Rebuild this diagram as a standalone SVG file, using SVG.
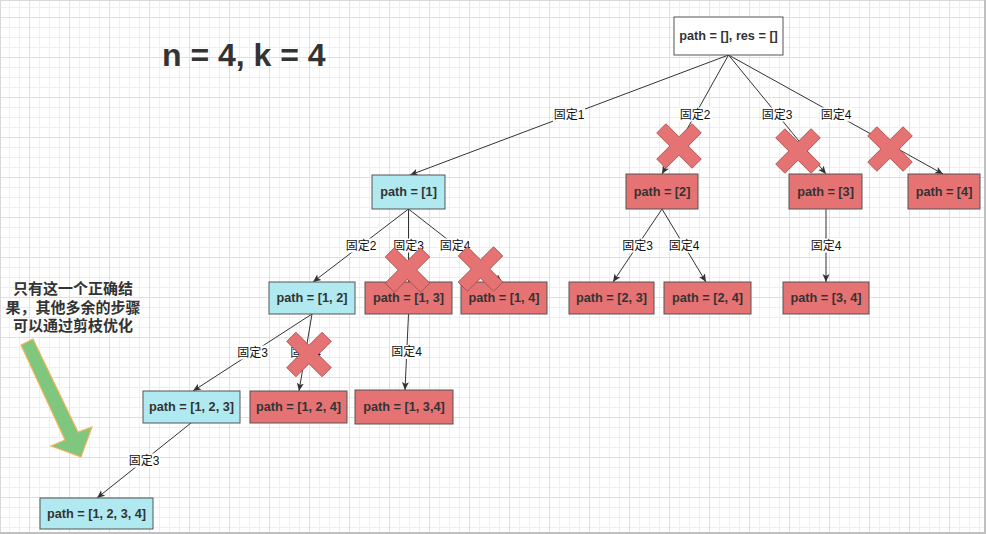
<svg xmlns="http://www.w3.org/2000/svg" width="986" height="534" viewBox="0 0 986 534">
<defs>
  <pattern id="grid" x="9" y="7" width="40" height="40" patternUnits="userSpaceOnUse">
    <path d="M0.5,0 V40 M10.5,0 V40 M30.5,0 V40 M0,0.5 H40 M0,20.5 H40 M0,30.5 H40" stroke="#efefef" stroke-width="1" fill="none"/>
    <path d="M20.5,0 V40 M0,10.5 H40" stroke="#e0e0e0" stroke-width="1" fill="none"/>
  </pattern>
  <marker id="arr" markerUnits="userSpaceOnUse" markerWidth="10" markerHeight="8" refX="8" refY="4" orient="auto">
    <path d="M0,0.5 L8,4 L0,7.5 L2,4 Z" fill="#333"/>
  </marker>
  <polygon id="cross" points="-6.5,-25 6.5,-25 6.5,-6.5 25,-6.5 25,6.5 6.5,6.5 6.5,25 -6.5,25 -6.5,6.5 -25,6.5 -25,-6.5 -6.5,-6.5"/>
  <style>
    .edge { stroke: #333; stroke-width: 1; fill: none; marker-end: url(#arr); }
    .lblbg { fill: #ffffff; }
    .lbl { font-family: "Liberation Sans", "Noto Sans CJK SC", sans-serif; font-size: 12px; fill: #111; text-anchor: middle; dominant-baseline: central; }
    .box { stroke: #555; stroke-width: 1; }
    .white { fill: #ffffff; }
    .cyan { fill: #b1e9f0; }
    .red { fill: #e67373; }
    .ntxt { font-family: "Liberation Sans", "Noto Sans CJK SC", sans-serif; font-size: 12.7px; font-weight: bold; fill: #333; text-anchor: middle; dominant-baseline: central; }
    .xmark { fill: #e67373; stroke: #a84848; stroke-width: 0.8; }
    .note { font-family: "Noto Sans CJK SC", sans-serif; font-size: 15px; font-weight: bold; fill: #333; text-anchor: middle; }
  </style>
</defs>

<rect x="0" y="0" width="986" height="534" fill="#ffffff"/>
<rect x="0" y="0" width="986" height="534" fill="url(#grid)"/>
<path d="M0.5,0 V534 M0,0.5 H986" stroke="#d8d8d8" stroke-width="1"/>
<rect x="984" y="0" width="2" height="534" fill="#c0c0c0"/>
<rect x="0" y="532" width="986" height="2" fill="#c0c0c0"/>

<text x="162" y="66" font-family="Liberation Sans, sans-serif" font-size="32" font-weight="bold" fill="#333">n = 4, k = 4</text>

<g id="note">
  <text class="note" x="73" y="293.5">只有这一个正确结</text>
  <text class="note" x="73" y="312.5">果，其他多余的步骤</text>
  <text class="note" x="73" y="331">可以通过剪枝优化</text>
  <polygon points="21,345 33,339 78,432 92,427 81,457 51,446 65,440" fill="#7fc77e" stroke="#f5b55a" stroke-width="1.2" stroke-linejoin="miter"/>
</g>

<g id="connectors">
  <line class="edge" x1="728.5" y1="55" x2="410" y2="175"/>
  <line class="edge" x1="728.5" y1="55" x2="662" y2="174"/>
  <line class="edge" x1="728.5" y1="55" x2="826" y2="174"/>
  <line class="edge" x1="728.5" y1="55" x2="943" y2="174"/>
  <line class="edge" x1="408.5" y1="209" x2="313" y2="282"/>
  <line class="edge" x1="408.5" y1="209" x2="408.5" y2="282"/>
  <line class="edge" x1="408.5" y1="209" x2="502" y2="282"/>
  <line class="edge" x1="662" y1="209" x2="613" y2="282"/>
  <line class="edge" x1="662" y1="209" x2="706" y2="282"/>
  <line class="edge" x1="826" y1="209" x2="826" y2="282"/>
  <line class="edge" x1="312" y1="314" x2="193" y2="391"/>
  <line class="edge" x1="312" y1="314" x2="299" y2="391"/>
  <line class="edge" x1="408.5" y1="314" x2="405" y2="390"/>
  <line class="edge" x1="191" y1="423" x2="97" y2="498"/>

  <rect class="lblbg" x="553" y="108" width="32" height="14"/><text class="lbl" x="569" y="115">固定1</text>
  <rect class="lblbg" x="679" y="107.5" width="32" height="14"/><text class="lbl" x="695" y="114.5">固定2</text>
  <rect class="lblbg" x="761" y="107.5" width="32" height="14"/><text class="lbl" x="777" y="114.5">固定3</text>
  <rect class="lblbg" x="820" y="107.5" width="32" height="14"/><text class="lbl" x="836" y="114.5">固定4</text>
  <rect class="lblbg" x="345" y="238.5" width="32" height="14"/><text class="lbl" x="361" y="245.5">固定2</text>
  <rect class="lblbg" x="392.5" y="238.5" width="32" height="14"/><text class="lbl" x="408.5" y="245.5">固定3</text>
  <rect class="lblbg" x="439" y="238.5" width="32" height="14"/><text class="lbl" x="455" y="245.5">固定4</text>
  <rect class="lblbg" x="621.5" y="238.5" width="32" height="14"/><text class="lbl" x="637.5" y="245.5">固定3</text>
  <rect class="lblbg" x="668" y="238.5" width="32" height="14"/><text class="lbl" x="684" y="245.5">固定4</text>
  <rect class="lblbg" x="810" y="238.5" width="32" height="14"/><text class="lbl" x="826" y="245.5">固定4</text>
  <rect class="lblbg" x="236.5" y="345.5" width="32" height="14"/><text class="lbl" x="252.5" y="352.5">固定3</text>
  <rect class="lblbg" x="289.5" y="345.5" width="32" height="14"/><text class="lbl" x="305.5" y="352.5">固定4</text>
  <rect class="lblbg" x="390.5" y="345" width="32" height="14"/><text class="lbl" x="406.5" y="352">固定4</text>
  <rect class="lblbg" x="128" y="453.5" width="32" height="14"/><text class="lbl" x="144" y="460.5">固定3</text>
</g>

<g id="n-root"><rect class="box white" x="674" y="17" width="109" height="38"/><text class="ntxt" x="728.5" y="36">path = [], res = []</text></g>
<g id="n-1"><rect class="box cyan" x="372" y="175" width="73" height="34"/><text class="ntxt" x="408.5" y="192">path = [1]</text></g>
<g id="n-2"><rect class="box red" x="626" y="174" width="72" height="35"/><text class="ntxt" x="662" y="191.5">path = [2]</text></g>
<g id="n-3"><rect class="box red" x="789" y="174" width="73" height="35"/><text class="ntxt" x="825.5" y="191.5">path = [3]</text></g>
<g id="n-4"><rect class="box red" x="908" y="174" width="72" height="35"/><text class="ntxt" x="944" y="191.5">path = [4]</text></g>
<g id="n-12"><rect class="box cyan" x="269" y="282" width="86" height="32"/><text class="ntxt" x="312" y="298">path = [1, 2]</text></g>
<g id="n-13"><rect class="box red" x="365" y="282" width="87" height="32"/><text class="ntxt" x="408.5" y="298">path = [1, 3]</text></g>
<g id="n-14"><rect class="box red" x="461" y="282" width="86" height="32"/><text class="ntxt" x="504" y="298">path = [1, 4]</text></g>
<g id="n-23"><rect class="box red" x="569" y="282" width="85" height="32"/><text class="ntxt" x="611.5" y="298">path = [2, 3]</text></g>
<g id="n-24"><rect class="box red" x="664" y="282" width="87" height="32"/><text class="ntxt" x="707.5" y="298">path = [2, 4]</text></g>
<g id="n-34"><rect class="box red" x="783" y="282" width="86" height="32"/><text class="ntxt" x="826" y="298">path = [3, 4]</text></g>
<g id="n-123"><rect class="box cyan" x="143" y="391" width="97" height="32"/><text class="ntxt" x="191.5" y="407">path = [1, 2, 3]</text></g>
<g id="n-124"><rect class="box red" x="250" y="391" width="97" height="32"/><text class="ntxt" x="298.5" y="407">path = [1, 2, 4]</text></g>
<g id="n-134"><rect class="box red" x="355" y="390" width="98" height="34"/><text class="ntxt" x="404" y="407">path = [1, 3,4]</text></g>
<g id="n-1234"><rect class="box cyan" x="40" y="498" width="113" height="31"/><text class="ntxt" x="96.5" y="513.5">path = [1, 2, 3, 4]</text></g>

<g id="crosses">
  <use href="#cross" class="xmark" transform="translate(679,146) rotate(45)"/>
  <use href="#cross" class="xmark" transform="translate(798,151) rotate(45)"/>
  <use href="#cross" class="xmark" transform="translate(890,149) rotate(45)"/>
  <use href="#cross" class="xmark" transform="translate(407.5,270) rotate(45)"/>
  <use href="#cross" class="xmark" transform="translate(480.5,269) rotate(45)"/>
  <use href="#cross" class="xmark" transform="translate(309,354.5) rotate(45)"/>
</g>
</svg>
